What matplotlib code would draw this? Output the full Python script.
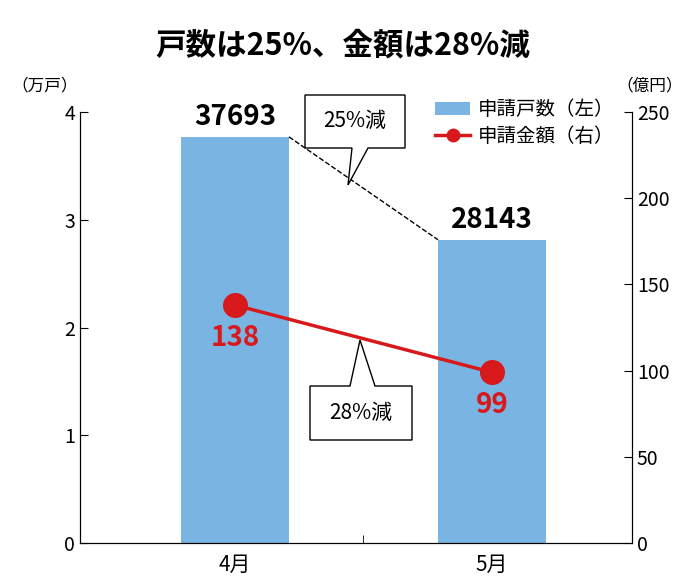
import matplotlib
matplotlib.use("Agg")
import matplotlib.pyplot as plt
from matplotlib.patches import Polygon
from matplotlib.lines import Line2D
from matplotlib.patches import Patch

plt.rcParams['font.family'] = ['Noto Sans CJK JP', 'DejaVu Sans']

months = ["4月", "5月"]
households = [3.7693, 2.8143]      # 万戸
household_labels = ["37693", "28143"]
amounts = [138, 99]                # 億円
BLUE = "#7ab4e2"
RED = "#d7191c"

fig = plt.figure(figsize=(6.85, 5.86), dpi=100)
W, H = 685, 586
L, R, T, B = 80, 632, 112, 543
ax = fig.add_axes([L / W, 1 - B / H, (R - L) / W, (B - T) / H])
ax2 = ax.twinx()

x = [0, 1]
ax.bar(x, households, width=0.42, color=BLUE, zorder=2)
ax.set_xlim(-0.603, 1.545)
ax.set_ylim(0, 4)
ax.set_yticks([0, 1, 2, 3, 4])
ax.set_xticks(x)
ax.set_xticklabels(months, fontsize=15)
ax.set_xticks([0.5], minor=True)
ax.tick_params(axis='x', which='major', length=0, pad=8)
ax.tick_params(axis='x', which='minor', length=6, direction='in')
ax.tick_params(axis='y', direction='in', labelsize=14, length=6)
ax2.set_ylim(0, 250)
ax2.set_yticks([0, 50, 100, 150, 200, 250])
ax2.tick_params(axis='y', direction='in', labelsize=14, length=6)
for a in (ax, ax2):
    a.spines['top'].set_visible(False)

ax2.plot(x, amounts, color=RED, lw=2.5, marker='o', ms=17, zorder=3)
for xi, v in zip(x, amounts):
    ax2.text(xi, v - 11, str(v), color=RED, fontsize=20, fontweight='bold',
             ha='center', va='top')
for xi, h, lab in zip(x, households, household_labels):
    ax.text(xi, h + 0.05, lab, fontsize=20, fontweight='bold', ha='center', va='bottom')

# dashed connector between bar tops
ax.plot([0.21, 0.79], [households[0], households[1]], ls='--', color='black', lw=1, zorder=3)

def px(p):
    return ((p[0] - L) / (R - L), (B - p[1]) / (B - T))

box1 = [(305, 95), (405, 95), (405, 148), (368, 148), (348, 185), (352, 148), (305, 148)]
box2 = [(310, 386), (350, 386), (360, 340), (375, 386), (412, 386), (412, 440), (310, 440)]
for poly, txt, cy in [(box1, "25%減", 121), (box2, "28%減", 413)]:
    ax.add_patch(Polygon([px(p) for p in poly], closed=True, transform=ax.transAxes,
                         facecolor='white', edgecolor='black', lw=1, zorder=4, clip_on=False))
    cx = (poly[0][0] + poly[1][0]) / 2 if txt.startswith("25") else 361
    ax.text(*px((cx, cy)), txt, transform=ax.transAxes, fontsize=15,
            ha='center', va='center', zorder=5)

fig.text(0.5, 1 - 45 / H, "戸数は25%、金額は28%減", fontsize=22, fontweight='bold',
         ha='center', va='center')
fig.text(45 / W, 1 - 86 / H, "（万戸）", fontsize=12, ha='center', va='center')
fig.text(650 / W, 1 - 86 / H, "（億円）", fontsize=12, ha='center', va='center')

handles = [Patch(facecolor=BLUE), Line2D([], [], color=RED, lw=2.5, marker='o', ms=9)]
ax.legend(handles, ["申請戸数（左）", "申請金額（右）"], loc='upper right',
          bbox_to_anchor=(1.0, 1.07), frameon=False, fontsize=14,
          handlelength=1.8, labelspacing=0.3, handletextpad=0.4)

fig.savefig("out.png", dpi=100)
